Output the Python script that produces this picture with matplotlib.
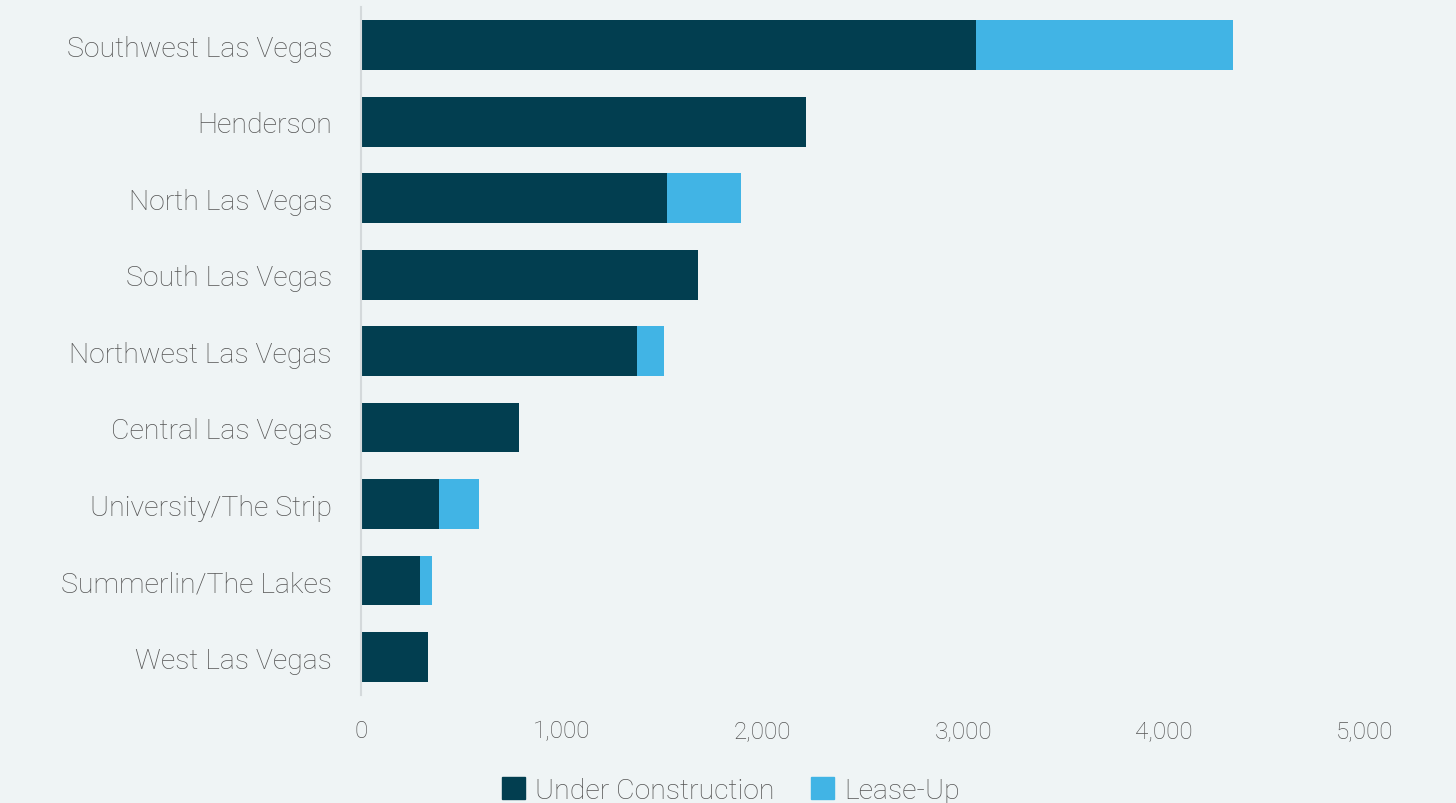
import matplotlib
matplotlib.use("Agg")
import matplotlib.pyplot as plt
from matplotlib.patches import Patch

# Multifamily pipeline by submarket (units).
submarkets = [
    "Southwest Las Vegas",
    "Henderson",
    "North Las Vegas",
    "South Las Vegas",
    "Northwest Las Vegas",
    "Central Las Vegas",
    "University/The Strip",
    "Summerlin/The Lakes",
    "West Las Vegas",
]
under_construction = [3063, 2216, 1524, 1678, 1374, 787, 388, 294, 334]
lease_up = [1280, 0, 368, 0, 135, 0, 200, 60, 0]
xticks = [0, 1000, 2000, 3000, 4000, 5000]

dark = "#023e50"
light = "#41b4e5"
bg = "#eff4f5"
txt = "#555555"

plt.rcParams["font.family"] = ["Roboto", "DejaVu Sans"]

fig = plt.figure(figsize=(14.56, 8.04), dpi=100, facecolor=bg)
ax = fig.add_axes([0.248, 0.134, 0.6895, 0.856], facecolor=bg)

ypos = list(range(len(submarkets)))
ax.barh(ypos, under_construction, height=0.65, color=dark, zorder=2)
ax.barh(ypos, lease_up, left=under_construction, height=0.65, color=light,
        zorder=2)

ax.set_xlim(0, 5000)
ax.set_ylim(8.5, -0.5)
ax.set_yticks(ypos)
ax.set_yticklabels(submarkets, fontsize=20.5, color=txt, fontweight="light")
ax.set_xticks(xticks)
ax.set_xticklabels([f"{v:,}" for v in xticks], fontsize=17.5, color=txt,
                   fontweight="light")
ax.tick_params(axis="both", length=0)
ax.tick_params(axis="y", pad=21)
ax.tick_params(axis="x", pad=17)

for side in ("top", "right", "bottom"):
    ax.spines[side].set_visible(False)
ax.spines["left"].set_color("#d4d9db")
ax.spines["left"].set_linewidth(1.5)

handles = [Patch(color=dark, label="Under Construction"),
           Patch(color=light, label="Lease-Up")]
fig.legend(handles=handles, loc="lower center", bbox_to_anchor=(0.502, -0.033),
           ncol=2, frameon=False, handlelength=0.8, handleheight=0.8,
           handletextpad=0.35, columnspacing=1.3,
           prop={"size": 20.5, "weight": "light"}, labelcolor=txt)

fig.savefig("out.png", dpi=100, facecolor=bg)
